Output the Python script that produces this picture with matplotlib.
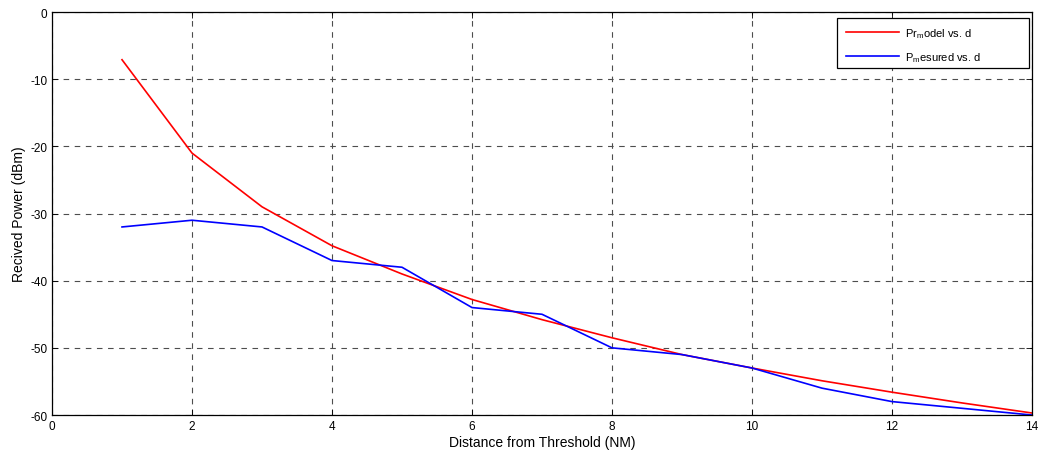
import matplotlib.pyplot as plt
from matplotlib.patches import Rectangle
import numpy as np

plt.rcParams['font.family'] = ['Liberation Sans', 'DejaVu Sans']
plt.rcParams['mathtext.fontset'] = 'custom'
plt.rcParams['mathtext.rm'] = 'Liberation Sans'
plt.rcParams['mathtext.it'] = 'Liberation Sans'
plt.rcParams['axes.unicode_minus'] = False

# distance from threshold (NM)
distance = [1, 2, 3, 4, 5, 6, 7, 8, 9, 10, 11, 12, 13, 14]
# received power, model and measured (dBm)
pr_model = [-7.1, -21.0, -29.0, -34.8, -39.0, -42.8, -45.8, -48.5, -51.0,
            -53.0, -54.9, -56.6, -58.2, -59.7]
p_measured = [-32, -31, -32, -37, -38, -44, -45, -50, -51, -53, -56, -58,
              -59, -60]

xticks = [0, 2, 4, 6, 8, 10, 12, 14]
yticks = [0, -10, -20, -30, -40, -50, -60]

W, H = 1038, 452
fig = plt.figure(figsize=(W / 100, H / 100), dpi=100)
ax = fig.add_axes([0.0501, 0.0796, 0.9441, 0.8916])

ax.plot(distance, pr_model, color='#ff0000', lw=1.2, label='Pr$_m$odel vs. d')
ax.plot(distance, p_measured, color='#0000ff', lw=1.2, label='P$_m$esured vs. d')

ax.set_xlim(0, 14)
ax.set_ylim(-60, 0)
ax.set_xticks(xticks)
ax.set_yticks(yticks)
ax.tick_params(direction='in', length=4, labelsize=8.5, top=True, right=True,
               width=0.6)
ax.grid(True, color='0.3', linestyle=(0, (5, 5)), linewidth=0.8)
for s in ax.spines.values():
    s.set_linewidth(0.9)

ax.set_xlabel('Distance from Threshold (NM)', fontsize=10, labelpad=2)
ax.set_ylabel('Recived Power (dBm)', fontsize=10, labelpad=3)

# legend box: wide frame with the entries sitting at its left
box = Rectangle((837 / W, 1 - 69 / H), 192 / W, 50 / H,
                transform=fig.transFigure, facecolor='white',
                edgecolor='black', linewidth=0.9, zorder=4, clip_on=False)
ax.add_patch(box)
leg = ax.legend(loc='upper left', bbox_to_anchor=(846 / W, 1 - 27 / H),
                bbox_transform=fig.transFigure, borderaxespad=0, borderpad=0,
                frameon=False, fontsize=8, handlelength=4.8,
                handletextpad=0.55, labelspacing=0.9)
leg.set_zorder(5)

fig.savefig('out.png', dpi=100)
